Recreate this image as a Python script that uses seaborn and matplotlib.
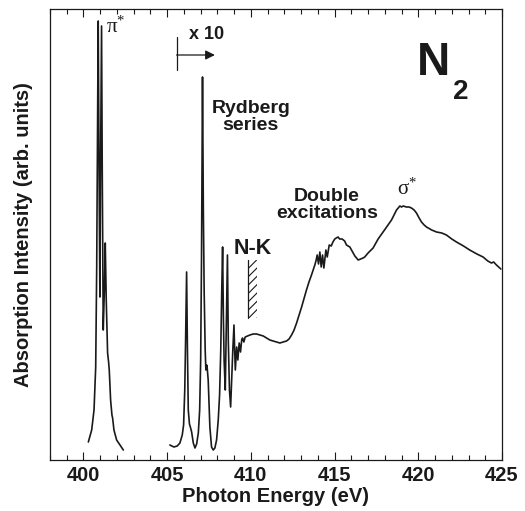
import numpy as np
import pandas as pd
import seaborn as sns
import matplotlib.pyplot as plt

# pi* resonance (full scale)
pi_energy = [400.29, 400.49, 400.63, 400.73, 400.79, 400.85, 400.88, 400.93, 400.98,
             401.02, 401.08, 401.12, 401.18, 401.26, 401.30, 401.36, 401.44, 401.50,
             401.54, 401.62, 401.70, 401.74, 401.82, 401.98, 402.18, 402.38]
pi_intensity = [18, 30, 50, 93, 193, 360, 439, 293, 163,
                293, 434, 293, 130, 177, 217, 160, 107, 98,
                90, 60, 45, 42, 30, 20, 15, 10]

# Rydberg series + continuum (x10)
ryd_energy = [405.16, 405.40, 405.60, 405.76, 405.90, 405.98, 406.05, 406.10, 406.16, 406.21,
              406.26, 406.33, 406.40, 406.46, 406.56, 406.66, 406.76, 406.86, 406.94, 407.00,
              407.05, 407.11, 407.16, 407.21, 407.27, 407.31, 407.36, 407.39, 407.45, 407.50,
              407.55, 407.65, 407.75, 407.85, 407.95, 408.05, 408.13, 408.20, 408.26, 408.31,
              408.36, 408.40, 408.47, 408.53, 408.60, 408.65, 408.72, 408.79, 408.85, 408.92,
              408.99, 409.03, 409.07, 409.15, 409.22, 409.30, 409.38, 409.45, 409.50, 409.58,
              409.66, 409.80, 409.94, 410.14, 410.34, 410.54, 410.74, 410.94, 411.13, 411.33,
              411.53, 411.73, 411.93, 412.13, 412.28, 412.43, 412.58, 412.73, 412.88, 413.03,
              413.18, 413.32, 413.47, 413.62, 413.72, 413.82, 413.90, 413.96, 414.04, 414.12,
              414.20, 414.28, 414.36, 414.48, 414.56, 414.68, 414.80, 414.90, 415.01, 415.10,
              415.21, 415.30, 415.45, 415.60, 415.71, 415.91, 416.21, 416.41, 416.55, 416.70,
              416.80, 417.00, 417.30, 417.60, 417.90, 418.15, 418.40, 418.55, 418.70, 418.90,
              419.00, 419.10, 419.29, 419.45, 419.59, 419.75, 419.89, 420.05, 420.19, 420.35,
              420.49, 420.80, 421.09, 421.40, 421.68, 422.00, 422.28, 422.70, 423.07, 423.50,
              423.87, 424.15, 424.37, 424.50, 424.67, 424.93]
ryd_intensity = [15, 13, 14, 17, 25, 35, 70, 120, 188, 110,
                 50, 36, 32, 28, 17, 12, 16, 27, 50, 100,
                 200, 383, 250, 167, 110, 90, 95, 92, 80, 55,
                 33, 13, 10, 12, 20, 40, 65, 110, 170, 213,
                 140, 100, 70, 130, 205, 120, 70, 53, 80, 110,
                 135, 110, 90, 113, 100, 117, 108, 120, 122, 118,
                 123, 124, 125, 126, 126, 125, 124, 122, 120, 119,
                 118, 117, 118, 119, 121, 125, 130, 137, 145, 153,
                 162, 170, 178, 185, 190, 195, 200, 205, 196, 208,
                 193, 205, 192, 210, 203, 215, 214, 218, 221, 222,
                 223, 221, 221, 219, 215, 213, 204, 200, 201, 202,
                 203, 207, 212, 221, 228, 234, 240, 245, 250, 254,
                 253, 254, 253, 253, 252, 250, 247, 242, 238, 235,
                 233, 230, 228, 227, 225, 221, 218, 214, 210, 206,
                 203, 199, 197, 198, 195, 191]

x_ticks = [400, 405, 410, 415, 420, 425]

pi_df = pd.DataFrame({"energy": pi_energy, "intensity": pi_intensity})
ryd_df = pd.DataFrame({"energy": ryd_energy, "intensity": ryd_intensity})

sns.set_theme(style="ticks")
plt.rcParams["font.family"] = ["Liberation Sans", "DejaVu Sans"]
plt.rcParams["mathtext.fontset"] = "custom"
plt.rcParams["mathtext.rm"] = "Liberation Serif"
plt.rcParams["mathtext.it"] = "Liberation Serif:italic"
plt.rcParams["hatch.linewidth"] = 0.8

ink = "#1a1a1a"

fig = plt.figure(figsize=(5.25, 5.11), dpi=100)
ax = fig.add_axes([50 / 525, 51 / 511, 452 / 525, 451 / 511])

sns.lineplot(data=pi_df, x="energy", y="intensity", ax=ax, color=ink, lw=1.2,
             sort=False, estimator=None)
sns.lineplot(data=ryd_df, x="energy", y="intensity", ax=ax, color=ink, lw=1.2,
             sort=False, estimator=None)

ax.set_xlim(398, 425)
ax.set_ylim(0, 451)
ax.set_xticks(x_ticks)
ax.set_xticks(np.arange(398, 426, 1), minor=True)
ax.set_yticks([])
ax.tick_params(axis="x", which="both", direction="in", top=True, bottom=True,
               width=0.8, color=ink, labelsize=14.5, pad=4, labelcolor=ink)
ax.tick_params(axis="x", which="major", length=6)
ax.tick_params(axis="x", which="minor", length=3.5)
for lab in ax.get_xticklabels():
    lab.set_fontweight("bold")
for sp in ax.spines.values():
    sp.set_linewidth(0.9)
    sp.set_color(ink)

ax.set_xlabel("Photon Energy (eV)", fontsize=14.5, fontweight="bold", color=ink, labelpad=2)
ax.set_ylabel("Absorption Intensity (arb. units)", fontsize=14.5, fontweight="bold",
              color=ink, labelpad=12)

# annotations
bold = dict(fontweight="bold", color=ink, ha="center", va="center")
ax.text(401.9, 434, r"$\mathrm{\pi}^{*}$", fontsize=15, color=ink, ha="center", va="center")
ax.text(407.37, 425, "x 10", fontsize=13, **bold)
ax.plot([405.56, 405.56], [390, 423], color=ink, lw=0.9)
ax.annotate("", xy=(407.85, 405), xytext=(405.56, 405),
            arrowprops=dict(arrowstyle="-|>", color=ink, lw=0.9, mutation_scale=14,
                            shrinkA=0, shrinkB=0))
ax.text(410.0, 343, "Rydberg\nseries", fontsize=14, linespacing=0.95, **bold)
ax.text(410.12, 212, "N-K", fontsize=15.5, **bold)
ax.plot([409.84, 409.84], [142, 200], color=ink, lw=0.9)
ax.fill_betweenx([142, 200], 409.84, 410.34, hatch="////", facecolor="none",
                 edgecolor=ink, linewidth=0)
ax.text(414.54, 255, "Double\nexcitations", fontsize=14, linespacing=0.95, **bold)
ax.text(419.31, 272, r"$\mathrm{\sigma}^{*}$", fontsize=15, color=ink, ha="center", va="center")
ax.text(420.93, 397, "N", fontsize=33, **bold)
ax.text(422.54, 368, "2", fontsize=20, **bold)

fig.savefig("out.png", dpi=100)
